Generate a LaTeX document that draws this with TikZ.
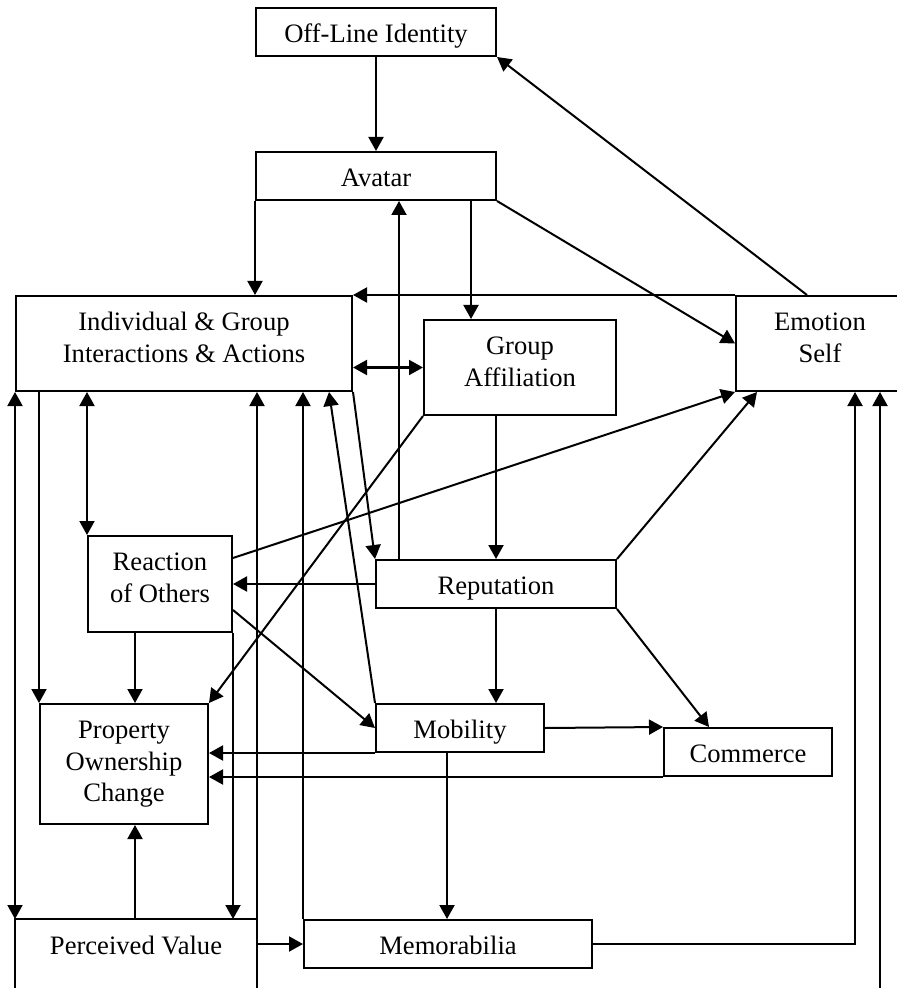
\documentclass[tikz,border=0pt]{standalone}
\usepackage{fontspec}
\setmainfont{Liberation Serif}
\usetikzlibrary{arrows.meta,calc}
\tikzset{
  >={Triangle[length=7pt,width=7.5pt]},
  every node/.style={font=\fontsize{13.3}{15.85}\selectfont},
  box/.style={draw, anchor=north, inner sep=0pt, align=center, line width=1pt},
  oneline/.style={box, text height=17.25pt, text depth=6.75pt},
  twoline/.style={box, text height=33.1pt, text depth=14.4pt},
  threeline/.style={box, text height=48.95pt, text depth=11.05pt},
  link/.style={->, line width=1pt},
  both/.style={<->, line width=1pt}
}

\begin{document}
\begin{tikzpicture}[x=0.5pt, y=-0.5pt]
  \useasboundingbox (0,0) rectangle (897,988);

  % boxes, placed by their top edge
  \node[oneline, minimum width=120pt] (off) at (376,7) {Off-Line Identity};
  \node[oneline, minimum width=120pt] (avatar) at (376,151) {Avatar};
  \node[twoline, minimum width=168pt] (igia) at (184,295) {Individual \& Group\\Interactions \& Actions};
  \node[twoline, minimum width=96pt] (grp) at (520,319) {Group\\Affiliation};
  \node[twoline, minimum width=84pt] (emo) at (820,295) {Emotion\\Self};
  \node[twoline, minimum width=72pt, text depth=14.9pt] (reac) at (160,535) {Reaction\\of Others};
  \node[oneline, minimum width=120pt] (rep) at (496,559) {Reputation};
  \node[threeline, minimum width=84pt] (prop) at (124,703) {Property\\Ownership\\Change};
  \node[oneline, minimum width=84pt] (mob) at (460,703) {Mobility};
  \node[oneline, minimum width=84pt] (com) at (748,727) {Commerce};
  \node[oneline, minimum width=144pt] (mem) at (448,919) {Memorabilia};
  \node[oneline, draw=none, minimum width=120pt] (pv) at (136,919) {Perceived Value};
  \coordinate (below) at (880,1010);

  % perceived value runs past the lower edge
  \draw[line width=1pt] (pv.north west |- below) -- (pv.north west)
    -- (pv.north east) -- (pv.north east |- below);

  % top part
  \draw[link] (off) -- (avatar);
  \draw[link] ($(emo.north)+(-13,0)$) -- (off.south east);
  \draw[link] (avatar.south west) -- (avatar.south west |- igia.north);
  \draw[link] ($(rep.north west)+(24,0)$) -- ($(avatar.south west)+(144,0)$);
  \draw[link] ($(avatar.south west)+(216,0)$) -- ($(grp.north west)+(48,0)$);
  \draw[link] (avatar.south east) -- (emo.west);
  \draw[link] (emo.north west) -- (igia.north east);
  \draw[both] (igia.east |- grp.west) -- (grp.west);

  % out of and into the interactions box
  \draw[both] (reac.north west |- igia.south) -- (reac.north west);
  \draw[link] ($(igia.south west)+(24,0)$) -- (prop.north west);
  \draw[both] (pv.north west) -- (igia.south west);
  \draw[link] (pv.north east) -- (pv.north east |- igia.south);
  \draw[link] (mem.north west) -- (mem.north west |- igia.south);
  \draw[link] (mob.north west) -- ($(igia.south east)+(-24,0)$);
  \draw[link] (igia.south east) -- (rep.north west);

  % middle part
  \draw[link] (grp.south west) -- (prop.north east);
  \draw[link] (grp.south west -| rep.north) -- (rep.north);
  \draw[link] ($(reac.north east)+(0,23)$) -- (emo.south west);
  \draw[link] (rep.north east) -- ($(emo.south west)+(22,0)$);
  \draw[link] (rep.west) -- (reac.east);
  \draw[link] ($(reac.south east)+(0,-23)$) -- (mob.west);
  \draw[link] ($(reac.south west)+(48,0)$) -- ($(prop.north west)+(96,0)$);
  \draw[link] (reac.south east) -- (reac.south east |- pv.north);
  \draw[link] (rep.south) -- (rep.south |- mob.north);
  \draw[link] (rep.south east) -- ($(com.north west)+(46,0)$);

  % lower part
  \draw[link] (mob.east) -- (com.north west);
  \draw[link] (mob.south west) -- (mob.south west -| prop.east);
  \draw[link] (com.south west) -- (com.south west -| prop.east);
  \draw[link] ($(mob.south west)+(72,0)$) -- ($(mem.north west)+(144,0)$);
  \draw[link] ($(pv.north west)+(120,0)$) -- ($(prop.south west)+(96,0)$);
  \draw[link] (pv.east) -- (mem.west);
  \draw[link] (mem.east) -| ($(emo.south west)+(120,0)$);
  \draw[link] (below) -- (below |- emo.south);
\end{tikzpicture}
\end{document}
